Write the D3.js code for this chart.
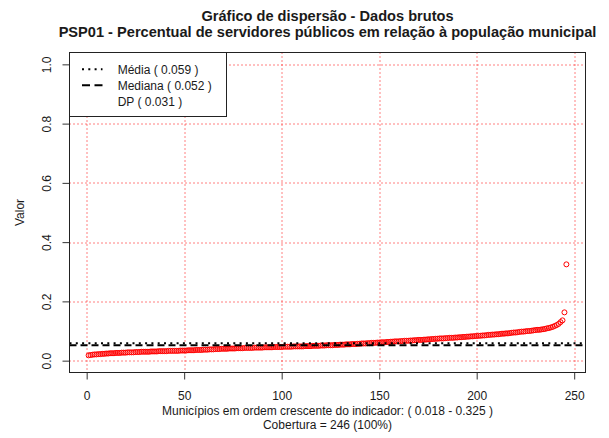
<!DOCTYPE html>
<meta charset="utf-8"/>
<head>
<script src="https://d3js.org/d3.v7.min.js"></script>
<style>
  body { margin: 0; background: #fff; }
  svg { display: block; background: #fff; }
  text { font-family: "Liberation Sans", Arial, sans-serif; fill: #1a1a1a; }
  .title { font-weight: bold; font-size: 14.6px; }
  .lbl { font-size: 12px; }
  .grid line { stroke: #ff0000; stroke-width: 1; stroke-dasharray: 1,3; }
  .tick line { stroke: #333; }
  .tick text { font-size: 12px; }
</style>
</head>
<body>
<div id="scatter"></div>
<script type="text/javascript">

// sorted indicator values, one per municipality
var valores = [
  0.018, 0.019, 0.020, 0.021, 0.021, 0.022, 0.022, 0.023, 0.023, 0.024,
  0.024, 0.025, 0.025, 0.025, 0.026, 0.026, 0.026, 0.027, 0.027, 0.027,
  0.028, 0.028, 0.028, 0.028, 0.029, 0.029, 0.029, 0.030, 0.030, 0.030,
  0.030, 0.030, 0.031, 0.031, 0.031, 0.031, 0.032, 0.032, 0.032, 0.032,
  0.032, 0.033, 0.033, 0.033, 0.033, 0.033, 0.033, 0.034, 0.034, 0.034,
  0.034, 0.035, 0.035, 0.035, 0.035, 0.036, 0.036, 0.036, 0.036, 0.037,
  0.037, 0.037, 0.038, 0.038, 0.038, 0.039, 0.039, 0.039, 0.040, 0.040,
  0.040, 0.040, 0.041, 0.041, 0.041, 0.041, 0.042, 0.042, 0.042, 0.042,
  0.043, 0.043, 0.043, 0.043, 0.043, 0.044, 0.044, 0.044, 0.044, 0.044,
  0.045, 0.045, 0.045, 0.045, 0.045, 0.046, 0.046, 0.046, 0.046, 0.046,
  0.047, 0.047, 0.047, 0.047, 0.047, 0.048, 0.048, 0.048, 0.048, 0.048,
  0.048, 0.049, 0.049, 0.049, 0.049, 0.050, 0.050, 0.050, 0.050, 0.051,
  0.051, 0.051, 0.052, 0.052, 0.052, 0.052, 0.053, 0.053, 0.053, 0.054,
  0.054, 0.054, 0.055, 0.055, 0.055, 0.056, 0.056, 0.056, 0.057, 0.057,
  0.058, 0.058, 0.058, 0.059, 0.059, 0.060, 0.060, 0.060, 0.061, 0.061,
  0.062, 0.062, 0.062, 0.063, 0.063, 0.064, 0.064, 0.065, 0.065, 0.065,
  0.066, 0.066, 0.067, 0.067, 0.067, 0.068, 0.068, 0.069, 0.069, 0.070,
  0.070, 0.070, 0.071, 0.071, 0.072, 0.072, 0.073, 0.073, 0.074, 0.074,
  0.075, 0.075, 0.075, 0.076, 0.076, 0.077, 0.077, 0.077, 0.078, 0.078,
  0.079, 0.079, 0.080, 0.080, 0.081, 0.081, 0.082, 0.082, 0.083, 0.083,
  0.084, 0.084, 0.085, 0.085, 0.086, 0.087, 0.087, 0.088, 0.088, 0.089,
  0.089, 0.090, 0.091, 0.091, 0.092, 0.092, 0.093, 0.094, 0.095, 0.095,
  0.096, 0.097, 0.098, 0.098, 0.099, 0.100, 0.100, 0.101, 0.102, 0.103,
  0.104, 0.104, 0.105, 0.106, 0.107, 0.109, 0.110, 0.112, 0.114, 0.117,
  0.120, 0.124, 0.130, 0.136, 0.163, 0.325
];

// summary stats shown in the legend
var media = 0.059,
    mediana = 0.052,
    dp = 0.031;

var xTicks = [0, 50, 100, 150, 200, 250];
var yTicks = [0, 0.2, 0.4, 0.6, 0.8, 1.0];

var titulo1 = "Gráfico de dispersão - Dados brutos",
    titulo2 = "PSP01 - Percentual de servidores públicos em relação à população municipal";

var outerWidth = 609,
    outerHeight = 438,
    margin = { top: 52.5, right: 23.5, bottom: 65.5, left: 69.5 },
    width = outerWidth - margin.left - margin.right,
    height = outerHeight - margin.top - margin.bottom;

var n = valores.length;
var data = valores.map(function(v, i) { return { idx: i + 1, valor: v }; });

// R style 4% extension of the ranges
var x = d3.scaleLinear().domain([1 - 0.04 * (n - 1), n + 0.04 * (n - 1)]).range([0, width]);
var y = d3.scaleLinear().domain([-0.04, 1.04]).range([height, 0]);

var svg = d3.select("#scatter").append("svg")
    .attr("width", outerWidth)
    .attr("height", outerHeight);

var g = svg.append("g")
    .attr("transform", "translate(" + margin.left + "," + margin.top + ")");

// grid
var grid = g.append("g").attr("class", "grid");
grid.selectAll(".gx").data(xTicks).enter().append("line")
    .attr("x1", function(d) { return Math.round(x(d)) + 0.5; })
    .attr("x2", function(d) { return Math.round(x(d)) + 0.5; })
    .attr("y1", 0).attr("y2", height);
grid.selectAll(".gy").data(yTicks).enter().append("line")
    .attr("y1", function(d) { return Math.round(y(d)) + 0.5; })
    .attr("y2", function(d) { return Math.round(y(d)) + 0.5; })
    .attr("x1", 0).attr("x2", width);

// points
g.append("g").selectAll("circle")
    .data(data).enter().append("circle")
    .attr("cx", function(d) { return x(d.idx); })
    .attr("cy", function(d) { return y(d.valor); })
    .attr("r", 2.5)
    .attr("fill", "none")
    .attr("stroke", "#ff0000")
    .attr("stroke-width", 1);

// mean and median lines
g.append("line")
    .attr("x1", 0).attr("x2", width)
    .attr("y1", y(media)).attr("y2", y(media))
    .attr("stroke", "#000").attr("stroke-width", 2)
    .attr("stroke-dasharray", "2,4.3");
g.append("line")
    .attr("x1", 0).attr("x2", width)
    .attr("y1", y(mediana)).attr("y2", y(mediana))
    .attr("stroke", "#000").attr("stroke-width", 2)
    .attr("stroke-dasharray", "7,4");

// axes
var xAxis = d3.axisBottom(x).tickValues(xTicks).tickSize(7).tickPadding(11.5)
    .tickFormat(d3.format("d"));
var gx = g.append("g").attr("transform", "translate(0," + height + ")").call(xAxis);
gx.select(".domain").remove();

var yAxis = d3.axisLeft(y).tickValues(yTicks).tickSize(7).tickFormat(d3.format(".1f"));
var gy = g.append("g").call(yAxis);
gy.select(".domain").remove();
gy.selectAll(".tick text")
    .attr("x", null).attr("dy", null)
    .attr("text-anchor", "middle")
    .attr("transform", "translate(-18.5,0) rotate(-90)");
svg.selectAll(".tick text").attr("fill", "#1a1a1a")
    .style("font-family", "'Liberation Sans', Arial, sans-serif");

// box
g.append("rect")
    .attr("width", width).attr("height", height)
    .attr("fill", "none").attr("stroke", "#222").attr("stroke-width", 1);

// legend
var leg = svg.append("g").attr("transform", "translate(69.5,52.5)");
leg.append("rect").attr("width", 157).attr("height", 64)
    .attr("fill", "#fff").attr("stroke", "#222");
var legItems = [
  { txt: "Média ( " + d3.format(".3f")(media) + " )", dash: "2,4.3" },
  { txt: "Mediana ( " + d3.format(".3f")(mediana) + " )", dash: "8,4.5" },
  { txt: "DP ( " + d3.format(".3f")(dp) + " )", dash: null }
];
legItems.forEach(function(it, i) {
  var cy = 16.8 + i * 16;
  if (it.dash) {
    leg.append("line")
      .attr("x1", 12.5).attr("x2", 33).attr("y1", cy).attr("y2", cy)
      .attr("stroke", "#000").attr("stroke-width", 2)
      .attr("stroke-dasharray", it.dash);
  }
  leg.append("text").attr("class", "lbl")
    .attr("x", 48.2).attr("y", cy + 4.3)
    .text(it.txt);
});

// titles
var cx = margin.left + width / 2;
svg.append("text").attr("class", "title").attr("text-anchor", "middle")
    .attr("x", cx).attr("y", 20.5).text(titulo1);
svg.append("text").attr("class", "title").attr("text-anchor", "middle")
    .attr("x", cx).attr("y", 37).text(titulo2);

// axis labels
var ext = d3.extent(valores);
svg.append("text").attr("class", "lbl").attr("text-anchor", "middle")
    .attr("x", cx).attr("y", 414.5)
    .text("Municípios em ordem crescente do indicador: ( " + d3.format(".3f")(ext[0]) + " - " + d3.format(".3f")(ext[1]) + " )");
svg.append("text").attr("class", "lbl").attr("text-anchor", "middle")
    .attr("x", cx).attr("y", 428.5)
    .text("Cobertura = " + n + " (100%)");
svg.append("text").attr("class", "lbl").attr("text-anchor", "middle")
    .attr("transform", "translate(24.3," + (margin.top + height / 2) + ") rotate(-90)")
    .text("Valor");

</script>
</body>
